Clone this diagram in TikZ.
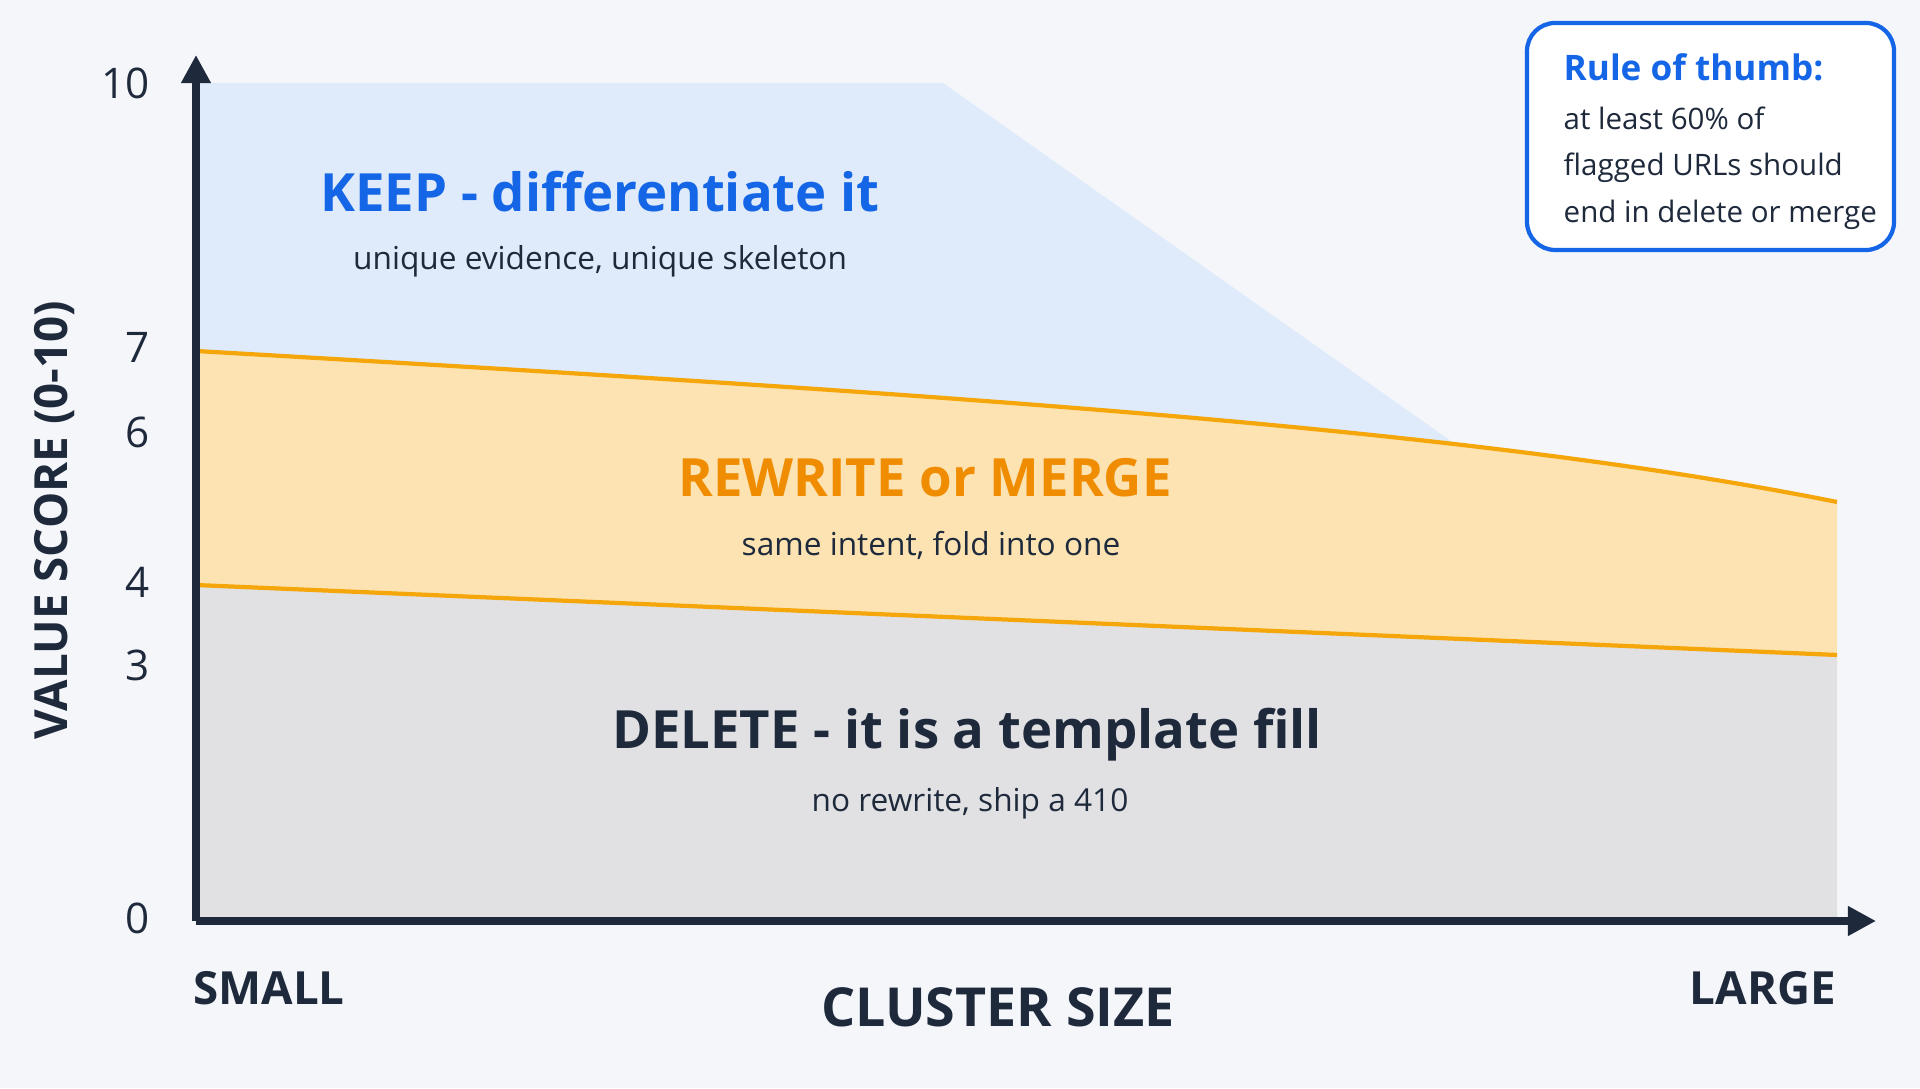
\documentclass[tikz,border=0pt]{standalone}
\usepackage{fontspec}
\setmainfont{Open Sans}
\usetikzlibrary{positioning,arrows.meta}
\definecolor{bgcol}{HTML}{F4F6FA}
\definecolor{keepfill}{HTML}{DFEBFB}
\definecolor{keeptext}{HTML}{1466E6}
\definecolor{mergefill}{HTML}{FDE3B2}
\definecolor{mergeline}{HTML}{F5A60A}
\definecolor{mergetext}{HTML}{F08C00}
\definecolor{delfill}{HTML}{E1E1E4}
\definecolor{navy}{HTML}{1E2A3C}
\begin{document}
\begin{tikzpicture}[%
		>={Triangle[length=8pt,width=8pt]},
		title/.style={font=\fontsize{15}{18}\selectfont\bfseries},
		sub/.style={font=\fontsize{9}{11}\selectfont, text=navy},
		tick/.style={font=\fontsize{12}{14}\selectfont, text=navy, anchor=east},
		axlabel/.style={font=\fontsize{13}{15}\selectfont\bfseries, text=navy}
		]
		\fill[bgcol] (0,0) rectangle (19.2,10.88);
		\useasboundingbox (0,0) rectangle (19.2,10.88);
		% zones
		\fill[keepfill] (1.96,7.0) -- (1.96,10.05) -- (9.43,10.05) -- (14.75,6.3) -- cycle;
		\fill[mergefill] (1.96,5.03) -- (1.96,7.37) .. controls (9.43,6.94) and (14.69,6.6) .. (18.37,5.86) -- (18.37,4.33) -- cycle;
		\fill[delfill] (1.96,1.67) -- (1.96,5.03) -- (18.37,4.33) -- (18.37,1.67) -- cycle;
		\draw[mergeline, line width=1.2pt] (1.96,7.37) .. controls (9.43,6.94) and (14.69,6.6) .. (18.37,5.86);
		\draw[mergeline, line width=1.2pt] (1.96,5.03) -- (18.37,4.33);
		% axes
		\coordinate (o) at (1.96,1.67);
		\coordinate (ytop) at (1.96,10.33);
		\coordinate (xend) at (18.76,1.67);
		\draw[navy, line width=2.2pt, ->] (o) -- (ytop);
		\draw[navy, line width=2.2pt, ->] (o) -- (xend);
		\node[tick] (t10) at (1.62,10.05) {10};
		\node[tick] (t7) at (1.62,7.41) {7};
		\node[tick] (t6) at (1.62,6.56) {6};
		\node[tick] (t4) at (1.62,5.06) {4};
		\node[tick] (t3) at (1.62,4.23) {3};
		\node[tick] (t0) at (1.62,1.70) {0};
		\node[axlabel, rotate=90] (ylab) at (0.55,5.68) {VALUE SCORE (0-10)};
		\node[axlabel] (small) at (2.69,1.0) {SMALL};
		\node[axlabel] (large) at (17.63,1.0) {LARGE};
		\node[axlabel, font=\fontsize{15.3}{18}\selectfont\bfseries] (xlab) at (9.98,0.81) {CLUSTER SIZE};
		% zone labels
		\node[title, text=keeptext] (keep) at (6.0,8.96) {KEEP - differentiate it};
		\node[sub] (keepsub) at (6.0,8.27) {unique evidence, unique skeleton};
		\node[title, text=mergetext] (merge) at (9.25,6.10) {REWRITE or MERGE};
		\node[sub] (mergesub) at (9.31,5.43) {same intent, fold into one};
		\node[title, text=navy] (del) at (9.67,3.53) {DELETE - it is a template fill};
		\node[sub] (delsub) at (9.70,2.85) {no rewrite, ship a 410};
		% rule of thumb
		\draw[keeptext, line width=1.2pt, rounded corners=8pt, fill=white] (15.27,8.38) rectangle (18.94,10.65);
		\node[anchor=west, text=keeptext, font=\fontsize{10}{12}\selectfont\bfseries, inner sep=0pt] (rule) at (15.63,10.21) {Rule of thumb:};
		\node[anchor=north west, sub, align=left, font=\fontsize{8.4}{13.2}\selectfont, inner sep=0pt] (rulebody) at (15.63,9.82) {at least 60\% of\\flagged URLs should\\end in delete or merge};
\end{tikzpicture}
\end{document}
